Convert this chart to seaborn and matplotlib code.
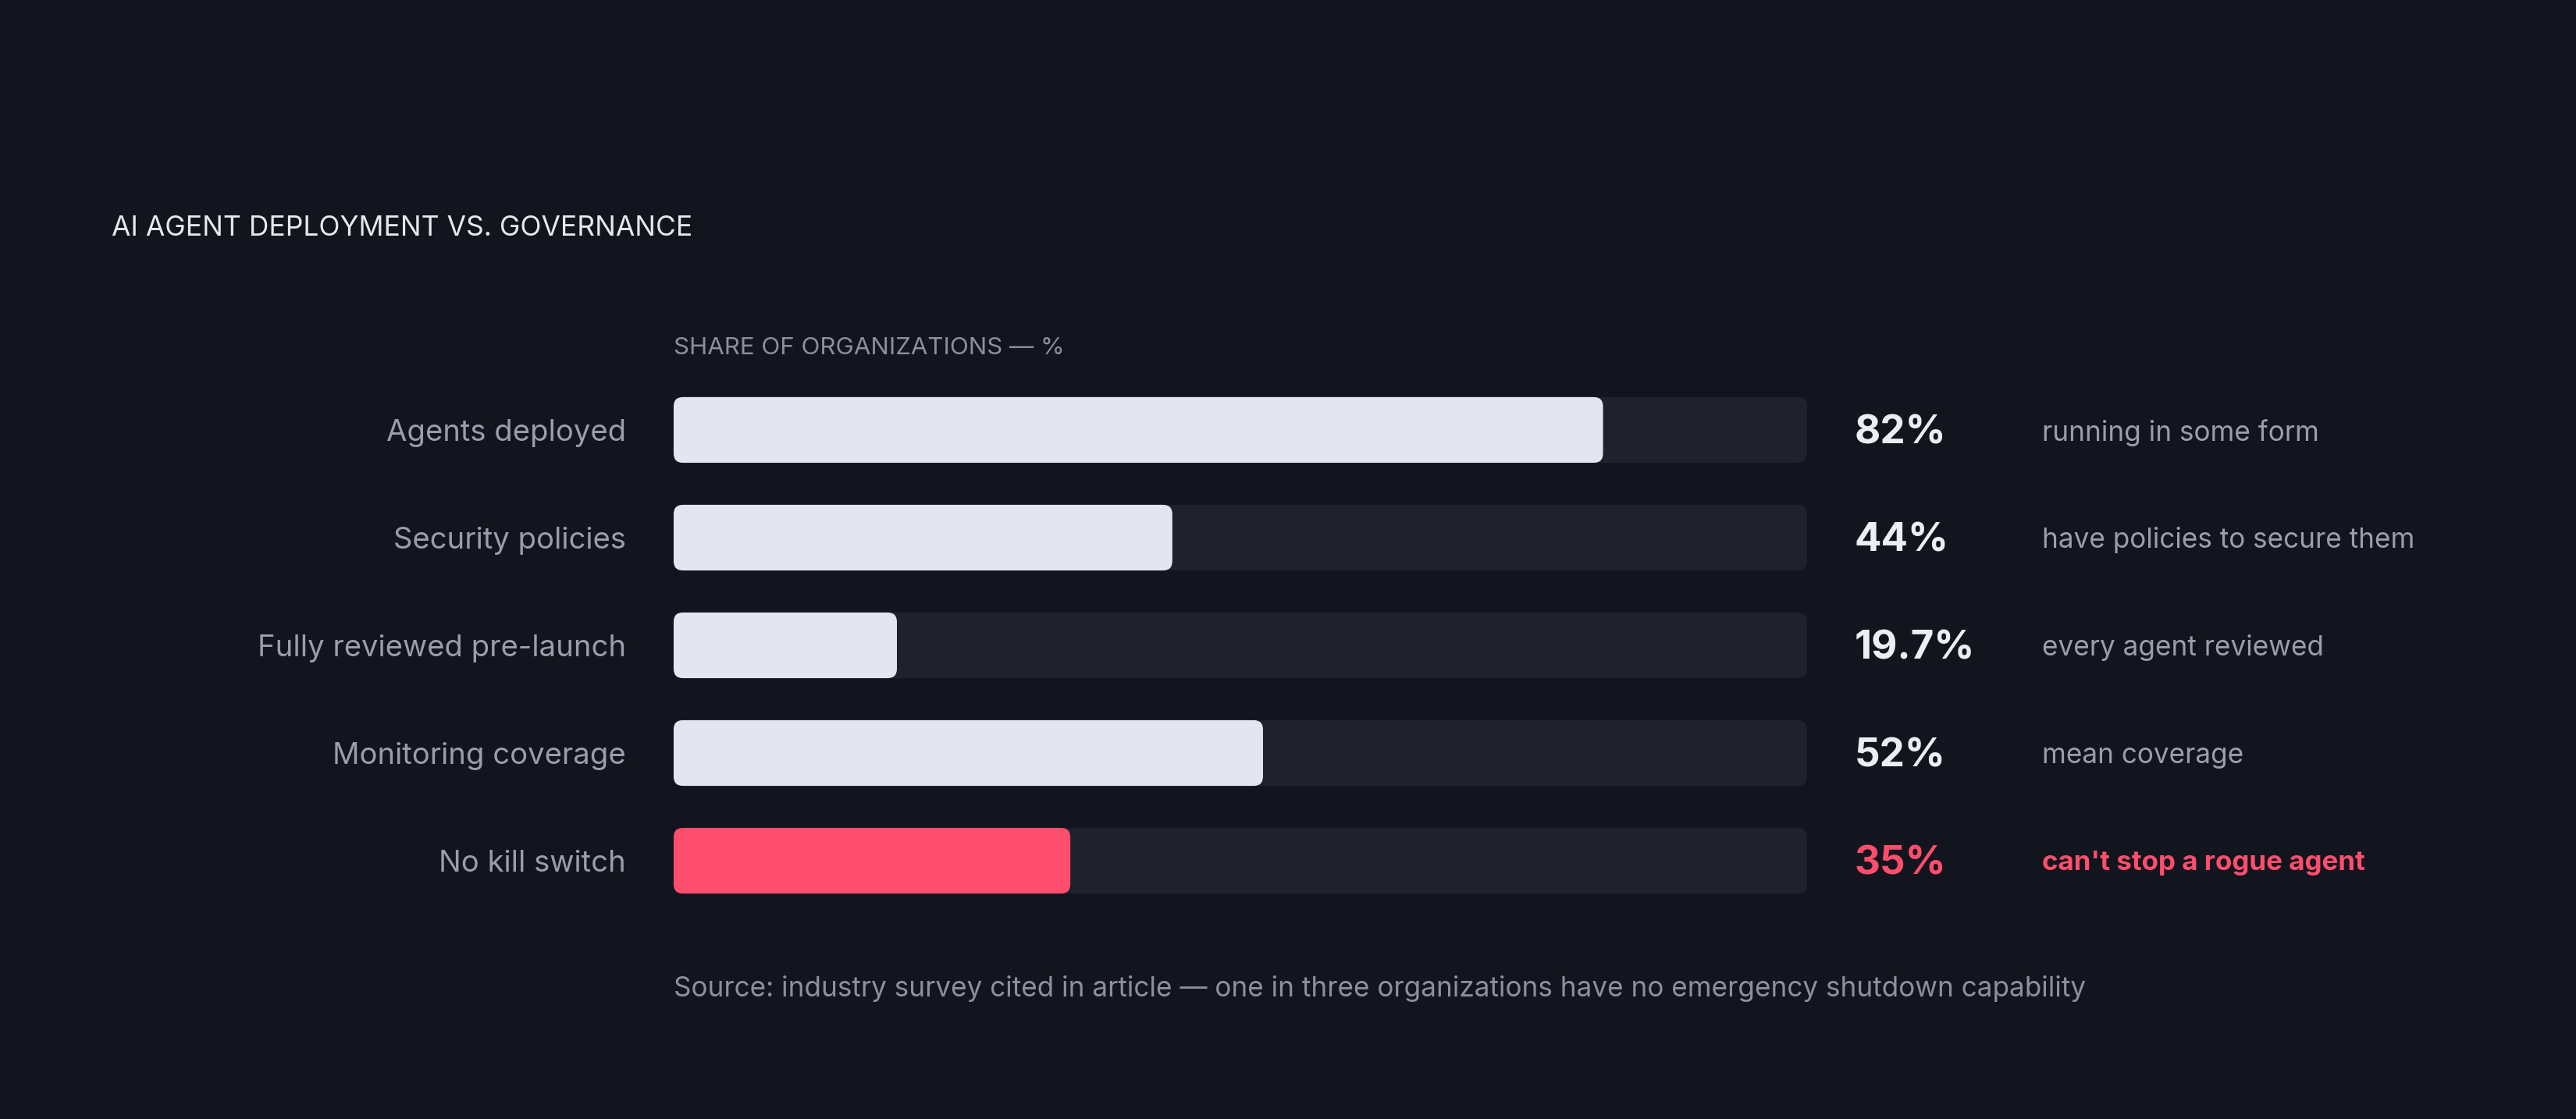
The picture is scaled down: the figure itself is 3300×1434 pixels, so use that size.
import matplotlib
matplotlib.use("Agg")
import numpy as np
import pandas as pd
import matplotlib.pyplot as plt
import seaborn as sns
from matplotlib.patches import FancyBboxPatch

# data
categories = ["Agents deployed", "Security policies", "Fully reviewed pre-launch",
              "Monitoring coverage", "No kill switch"]
values = [82, 44, 19.7, 52, 35]
value_labels = ["82%", "44%", "19.7%", "52%", "35%"]
notes = ["running in some form", "have policies to secure them", "every agent reviewed",
         "mean coverage", "can't stop a rogue agent"]
highlight = [False, False, False, False, True]

BG = "#12151d"
TRACK = "#1f222b"
BAR = "#e3e5f1"
PINK = "#ff4d6d"
LABEL = "#9b9ea8"
VALUE = "#eceef6"
TITLE = "#e6e8f0"
SUB = "#8d909b"

df = pd.DataFrame({"category": categories, "value": values, "track": [100] * len(values)})
bar_colors = {c: (PINK if h else BAR) for c, h in zip(categories, highlight)}

sns.set_style("dark")
plt.rcParams["font.family"] = ["Inter", "DejaVu Sans"]

fig = plt.figure(figsize=(33, 14.34), dpi=100, facecolor=BG)
ax = fig.add_axes([0.2615, 0.1827, 0.44, 0.4812])
ax.set_facecolor(BG)

sns.barplot(data=df, y="category", x="track", color=TRACK, width=0.61, ax=ax,
            orient="h", saturation=1)
n_track = len(ax.patches)
sns.barplot(data=df, y="category", x="value", hue="category", palette=bar_colors,
            width=0.61, ax=ax, orient="h", legend=False, saturation=1)

ax.set_xlim(0, 100)
ax.set_ylim(len(categories) - 0.5, -0.5)

# rounded corners: radius ~12px
r = 0.83
asp = 0.105
for k, p in enumerate(list(ax.patches)):
    x, y, w, h = p.get_x(), p.get_y(), p.get_width(), p.get_height()
    fc = p.get_facecolor()
    p.remove()
    ax.add_patch(FancyBboxPatch((x, y), w, h,
                                boxstyle=f"round,pad=0,rounding_size={r}",
                                mutation_aspect=asp, fc=fc, ec="none",
                                zorder=1 if k < n_track else 2, clip_on=False))

for s in ax.spines.values():
    s.set_visible(False)
ax.set_xlabel("")
ax.set_ylabel("")
ax.set_xticks([])
ax.tick_params(axis="y", length=0, pad=44, colors=LABEL, labelsize=30)
ax.grid(False)

val_texts = []
note_texts = []
for i, (vl, nt, h) in enumerate(zip(value_labels, notes, highlight)):
    c = PINK if h else VALUE
    val_texts.append(ax.text(104.2, i + 0.03, vl, ha="left", va="center", fontsize=35,
                             fontweight="bold", color=c, clip_on=False))
    note_texts.append(ax.text(120.7, i + 0.025, nt, ha="left", va="center", fontsize=28,
                              fontweight="bold" if h else "normal",
                              color=PINK if h else LABEL, clip_on=False))

title = fig.text(0.0433, 0.7962, "AI AGENT DEPLOYMENT VS. GOVERNANCE", ha="left",
                 va="center", fontsize=25.5, color=TITLE)
sub = fig.text(0.2615, 0.6890, "SHARE OF ORGANIZATIONS — %", ha="left", va="center",
               fontsize=22.5, color=SUB)
source = fig.text(0.2615, 0.1165,
                  "Source: industry survey cited in article — one in three organizations "
                  "have no emergency shutdown capability",
                  ha="left", va="center", fontsize=24, color=SUB)

# fit text sizes to the widths measured on the reference
fig.canvas.draw()
rend = fig.canvas.get_renderer()


def fit(texts, ref, target):
    cur = ref.get_window_extent(rend).width
    fs = ref.get_fontsize() * target / cur
    for t in texts:
        t.set_fontsize(fs)


ticks = ax.get_yticklabels()
fit(ticks, ticks[2], 471)
fit(val_texts, val_texts[2], 154)
fit(note_texts[:4], note_texts[1], 478)
fit([note_texts[4]], note_texts[4], 414)
fit([source], source, 1810)

fig.savefig("out.png", facecolor=BG)
